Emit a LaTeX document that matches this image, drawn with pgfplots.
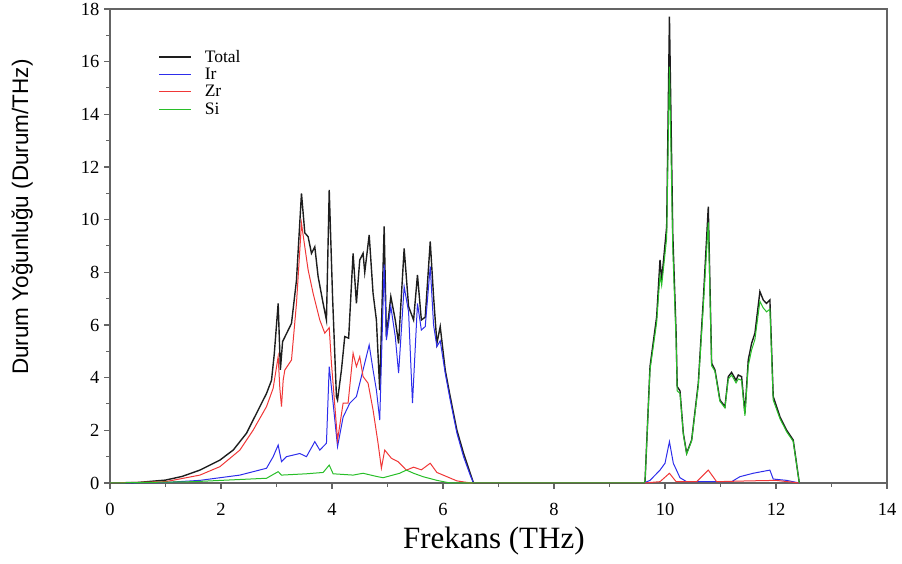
\documentclass[border=0pt]{standalone}
\usepackage{pgfplots}
\pgfplotsset{compat=1.18}
\usepackage{fontspec}
\setmainfont{Liberation Serif}
\newfontfamily\arialf{Liberation Sans}
\definecolor{ctot}{RGB}{30,30,30}
\definecolor{cir}{RGB}{45,45,235}
\definecolor{czr}{RGB}{240,55,55}
\definecolor{csi}{RGB}{40,190,40}
\definecolor{axgray}{RGB}{100,100,100}
\begin{document}
\begin{tikzpicture}
\begin{axis}[
  at={(0,0)}, anchor=south west,
  scale only axis, width=777pt, height=474pt,
  xmin=0, xmax=14, ymin=0, ymax=18,
  xtick={0,2,...,14}, ytick={0,2,...,18},
  minor tick num=1,
  xtick pos=bottom, ytick pos=left,
  tick align=outside,
  major tick length=6pt, minor tick length=4pt,
  axis line style={axgray, line width=1.3pt},
  every tick/.style={axgray, line width=1.1pt},
  every minor tick/.style={axgray, line width=1.0pt},
  /pgf/number format/assume math mode=true,
  ticklabel style={font=\fontsize{18.5}{18.5}\selectfont},
  xticklabel style={yshift=-11pt},
  yticklabel style={xshift=-1pt},
  xlabel={Frekans (THz)},
  ylabel={Durum Yoğunluğu (Durum/THz)},
  xlabel style={font=\fontsize{31}{31}\selectfont, at={(axis description cs:0.494,-0.122)}, anchor=center},
  ylabel style={font=\arialf\fontsize{22.5}{22.5}\selectfont, at={(axis description cs:-0.113,0.561)}, anchor=center},
  legend style={at={(axis description cs:0.062,0.918)}, anchor=north west, draw=none, fill=none,
    font=\fontsize{17.5}{17.5}\selectfont, row sep=0.3pt, inner sep=0pt,
    /tikz/every odd column/.append style={column sep=11pt}},
  legend cell align=left,
  legend image code/.code={\draw[#1] (0pt,0pt) -- (32pt,0pt);},
  clip=false,
]
\addplot[ctot, line width=1.4pt] coordinates {
(0,0) (0.5,0.02) (1.0,0.11) (1.3,0.25) (1.62,0.49) (1.98,0.87) (2.22,1.25) (2.46,1.89)
(2.70,2.9) (2.82,3.4) (2.91,3.9) (2.96,4.9) (3.03,6.82) (3.07,4.3) (3.11,5.37) (3.27,6.06)
(3.36,7.7) (3.45,11.0) (3.51,9.5) (3.57,9.35) (3.63,8.72) (3.69,8.97) (3.75,7.84) (3.84,6.82)
(3.90,6.19) (3.95,11.13) (4.01,7.08) (4.08,3.28) (4.10,3.15) (4.17,4.29) (4.23,5.56) (4.30,5.5)
(4.38,8.72) (4.44,6.82) (4.50,8.47) (4.56,8.72) (4.59,8.0) (4.67,9.42) (4.74,7.2) (4.80,6.19)
(4.86,3.53) (4.94,9.74) (4.98,5.56) (5.06,7.08) (5.14,6.19) (5.20,5.3) (5.30,8.91) (5.38,6.7)
(5.47,6.19) (5.54,7.9) (5.61,6.19) (5.68,6.3) (5.77,9.17) (5.83,7.08) (5.89,5.3) (5.95,5.94)
(6.04,4.29) (6.13,3.28) (6.25,2.01) (6.37,1.13) (6.49,0.37) (6.55,0) (9.62,0)
(9.64,0.05) (9.73,4.42) (9.85,6.32) (9.91,8.47) (9.94,7.7) (10.03,9.74) (10.08,17.71) (10.14,9.48)
(10.20,5.69) (10.22,3.66) (10.27,3.5) (10.33,1.89) (10.39,1.13) (10.48,1.63) (10.60,3.79) (10.69,6.95)
(10.78,10.49) (10.84,4.55) (10.90,4.3) (10.99,3.15) (11.08,2.9) (11.14,4.04) (11.20,4.2) (11.28,3.9)
(11.32,4.1) (11.38,4.04) (11.44,2.65) (11.50,4.67) (11.56,5.3) (11.62,5.69) (11.71,7.27) (11.77,6.95)
(11.83,6.82) (11.89,6.95) (11.95,3.28) (12.07,2.52) (12.19,2.01) (12.31,1.63) (12.42,0)
};
\addlegendentry{Total}
\addplot[cir, line width=1.0pt] coordinates {
(0,0) (1.0,0.02) (1.62,0.1) (2.34,0.3) (2.82,0.56) (2.94,1.0) (3.03,1.44) (3.09,0.81)
(3.18,1.0) (3.30,1.06) (3.42,1.12) (3.54,1.0) (3.69,1.57) (3.78,1.25) (3.90,1.51) (3.95,4.42)
(4.02,3.03) (4.10,1.38) (4.20,2.5) (4.32,3.03) (4.44,3.28) (4.53,4.04) (4.67,5.24) (4.74,4.29)
(4.80,3.53) (4.86,2.39) (4.94,8.3) (4.98,5.43) (5.06,6.7) (5.14,5.56) (5.20,4.17) (5.30,7.46)
(5.38,6.5) (5.45,3.03) (5.54,6.82) (5.61,5.81) (5.68,5.94) (5.77,8.22) (5.83,6.0) (5.89,5.18)
(5.95,5.4) (6.04,4.17) (6.13,3.15) (6.25,1.9) (6.37,1.0) (6.49,0.3) (6.55,0) (9.62,0)
(9.73,0.1) (9.91,0.49) (10.00,0.75) (10.08,1.57) (10.15,0.75) (10.27,0.2) (10.39,0.05) (11.2,0.05)
(11.35,0.24) (11.59,0.37) (11.89,0.49) (11.95,0.15) (12.19,0.1) (12.42,0)
};
\addlegendentry{Ir}
\addplot[czr, line width=1.0pt] coordinates {
(0,0) (1.0,0.05) (1.62,0.3) (1.98,0.62) (2.34,1.25) (2.58,2.01) (2.82,2.9) (2.94,3.6)
(3.03,4.8) (3.06,3.6) (3.09,2.9) (3.12,3.9) (3.15,4.29) (3.27,4.67) (3.36,6.82) (3.45,9.86)
(3.51,8.97) (3.57,8.09) (3.66,7.2) (3.78,6.19) (3.87,5.69) (3.95,5.9) (3.99,4.55) (4.10,1.63)
(4.20,3.03) (4.29,3.03) (4.38,4.93) (4.44,4.42) (4.50,4.8) (4.56,4.04) (4.65,3.79) (4.74,2.77)
(4.83,1.51) (4.89,0.56) (4.95,1.25) (5.07,0.94) (5.19,0.81) (5.34,0.49) (5.47,0.6) (5.61,0.5)
(5.77,0.75) (5.89,0.4) (6.07,0.24) (6.25,0.08) (6.5,0) (9.62,0) (9.91,0.05) (10.08,0.37)
(10.20,0.05) (10.57,0.05) (10.78,0.49) (10.93,0.05) (11.5,0.08) (12.0,0.1) (12.42,0)
};
\addlegendentry{Zr}
\addplot[csi, line width=1.0pt] coordinates {
(0,0) (1.5,0.05) (2.82,0.18) (3.03,0.43) (3.09,0.3) (3.54,0.35) (3.84,0.4) (3.95,0.68)
(4.02,0.35) (4.38,0.3) (4.56,0.37) (4.80,0.25) (4.92,0.2) (5.22,0.37) (5.34,0.49) (5.47,0.37)
(5.64,0.24) (5.89,0.1) (6.13,0) (9.62,0) (9.64,0.05) (9.73,4.3) (9.85,6.1) (9.91,7.9)
(9.94,7.5) (10.03,9.3) (10.08,15.81) (10.14,8.9) (10.20,5.4) (10.22,3.5) (10.27,3.4) (10.33,1.85)
(10.39,1.1) (10.48,1.6) (10.60,3.7) (10.69,6.7) (10.78,9.9) (10.84,4.45) (10.90,4.25) (10.99,3.1)
(11.08,2.85) (11.14,3.95) (11.20,4.1) (11.28,3.8) (11.32,3.95) (11.38,3.9) (11.44,2.55) (11.50,4.45)
(11.56,5.05) (11.62,5.45) (11.71,6.9) (11.77,6.65) (11.83,6.5) (11.89,6.6) (11.95,3.15) (12.07,2.45)
(12.19,1.95) (12.31,1.58) (12.42,0)
};
\addlegendentry{Si}
\end{axis}
\pgfresetboundingbox
\path[use as bounding box] (-110pt,-81pt) rectangle (792pt,483pt);
\end{tikzpicture}
\end{document}
